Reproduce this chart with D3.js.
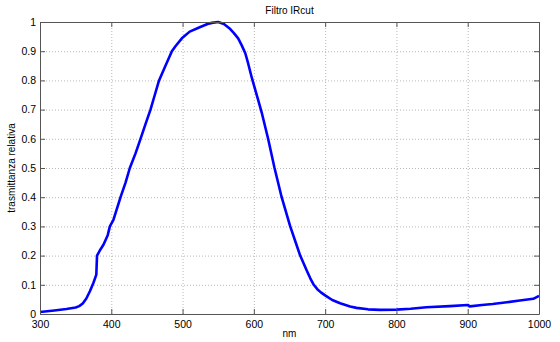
<!DOCTYPE html>
<html>
<head>
<meta charset="utf-8">
<script src="https://cdn.jsdelivr.net/npm/d3@7"></script>
<style>
  body { margin: 0; background: #fff; }
  svg { display: block; font-family: "Liberation Sans", Arial, sans-serif; }
  .grid line { stroke: #b8b8b8; stroke-dasharray: 1,2; }
  .grid .domain { display: none; }
</style>
</head>
<body>
<div id="chart"></div>
<script>
// Data
const wavelength = [300, 320, 337, 350, 355, 360, 365, 370, 375, 379, 380, 385, 389, 395, 398, 403,
  413, 420, 426, 434, 441, 448, 455, 461, 467, 476, 485, 490, 499, 510, 524, 535, 541, 550,
  558, 566, 572, 578, 583, 588, 592, 597, 606, 611, 620, 629, 639, 651, 658, 665, 674, 679, 684, 689, 694,
  700, 710, 721, 735, 744, 760, 777, 800, 820, 842, 875, 900, 903, 920, 935, 955, 973, 992, 1000];
const transmittance = [0.007, 0.012, 0.017, 0.022, 0.027, 0.036, 0.053, 0.078, 0.107, 0.135, 0.2, 0.222, 0.237, 0.27, 0.3, 0.322,
  0.4, 0.45, 0.5, 0.55, 0.6, 0.65, 0.7, 0.75, 0.8, 0.85, 0.9, 0.917, 0.944, 0.967, 0.982, 0.993, 0.997, 1.0,
  0.993, 0.978, 0.962, 0.944, 0.92, 0.893, 0.858, 0.81, 0.733, 0.69, 0.6, 0.5, 0.4, 0.3, 0.25, 0.2, 0.15, 0.123, 0.1, 0.085, 0.074,
  0.064, 0.048, 0.037, 0.026, 0.021, 0.016, 0.014, 0.015, 0.018, 0.023, 0.027, 0.031, 0.026, 0.031, 0.034, 0.04, 0.046, 0.052, 0.062];
const xTicks = [300, 400, 500, 600, 700, 800, 900, 1000];
const yTicks = [0, 0.1, 0.2, 0.3, 0.4, 0.5, 0.6, 0.7, 0.8, 0.9, 1];
const title = 'Filtro IRcut';
const xLabel = 'nm';
const yLabel = 'trasmittanza relativa';

const width = 560;
const height = 342;
const margin = { top: 22, right: 21, bottom: 28, left: 40 };

const usableArea = {
  top: margin.top,
  right: width - margin.right,
  bottom: height - margin.bottom,
  left: margin.left,
  width: width - margin.left - margin.right,
  height: height - margin.top - margin.bottom,
};

const data = wavelength.map((w, i) => ({ w, t: transmittance[i] }));

const svg = d3.select('#chart')
  .append('svg')
  .attr('width', width)
  .attr('height', height);

const xScale = d3.scaleLinear().domain([300, 1000]).range([usableArea.left, usableArea.right]);
const yScale = d3.scaleLinear().domain([0, 1]).range([usableArea.bottom, usableArea.top]);

// Gridlines
svg.append('g')
  .attr('class', 'grid')
  .attr('transform', `translate(0, ${usableArea.bottom})`)
  .call(d3.axisBottom(xScale).tickValues(xTicks).tickFormat('').tickSize(-usableArea.height));

svg.append('g')
  .attr('class', 'grid')
  .attr('transform', `translate(${usableArea.left}, 0)`)
  .call(d3.axisLeft(yScale).tickValues(yTicks).tickFormat('').tickSize(-usableArea.width));

// Curve
const line = d3.line().x(d => xScale(d.w)).y(d => yScale(d.t));
svg.append('path')
  .datum(data)
  .attr('d', line)
  .attr('fill', 'none')
  .attr('stroke', '#0000ff')
  .attr('stroke-width', 2.6)
  .attr('stroke-linejoin', 'round');

// Axes box with inward ticks (MATLAB style)
const axisColor = '#555';
function styleAxis(g) {
  g.select('.domain').attr('stroke', axisColor);
  g.selectAll('.tick line').attr('stroke', axisColor);
  g.selectAll('.tick text').attr('fill', '#000').attr('font-size', 10.5);
}

svg.append('g')
  .attr('transform', `translate(0, ${usableArea.bottom})`)
  .call(d3.axisBottom(xScale).tickValues(xTicks).tickSize(-5).tickSizeOuter(0).tickPadding(7).tickFormat(d3.format('d')))
  .call(styleAxis);

svg.append('g')
  .attr('transform', `translate(0, ${usableArea.top})`)
  .call(d3.axisTop(xScale).tickValues(xTicks).tickSize(-5).tickSizeOuter(0).tickFormat(''))
  .call(styleAxis);

svg.append('g')
  .attr('transform', `translate(${usableArea.left}, 0)`)
  .call(d3.axisLeft(yScale).tickValues(yTicks).tickSize(-5).tickSizeOuter(0).tickPadding(4).tickFormat(d => d === 0 || d === 1 ? String(d) : d3.format('.1f')(d)))
  .call(styleAxis);

svg.append('g')
  .attr('transform', `translate(${usableArea.right}, 0)`)
  .call(d3.axisRight(yScale).tickValues(yTicks).tickSize(-5).tickSizeOuter(0).tickFormat(''))
  .call(styleAxis);

// Labels
svg.append('text')
  .attr('x', (usableArea.left + usableArea.right) / 2)
  .attr('y', 14)
  .attr('text-anchor', 'middle')
  .attr('font-size', 10)
  .text(title);

svg.append('text')
  .attr('x', (usableArea.left + usableArea.right) / 2)
  .attr('y', 337)
  .attr('text-anchor', 'middle')
  .attr('font-size', 10)
  .text(xLabel);

svg.append('text')
  .attr('transform', `translate(15, ${(usableArea.top + usableArea.bottom) / 2}) rotate(-90)`)
  .attr('text-anchor', 'middle')
  .attr('font-size', 10)
  .text(yLabel);
</script>
</body>
</html>
